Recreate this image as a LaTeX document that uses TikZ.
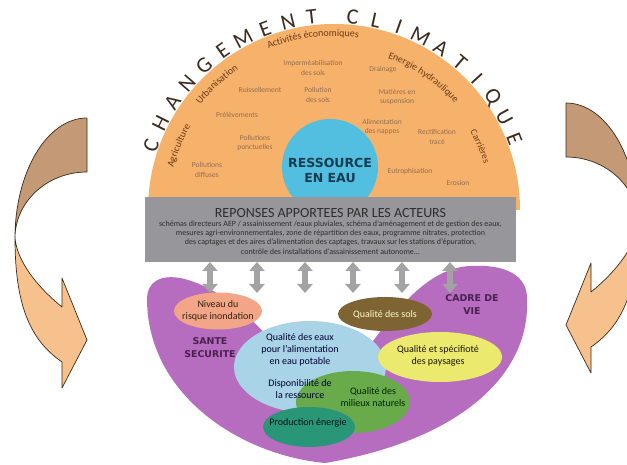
\documentclass[tikz,border=0pt]{standalone}
\usepackage{fontspec}
\setmainfont{Carlito}
\newfontfamily\dvs{DejaVu Sans}
\usetikzlibrary{arrows.meta,decorations.text}
\definecolor{orangebg}{HTML}{F6B26B}
\definecolor{bluec}{HTML}{52BEE0}
\definecolor{ressc}{HTML}{143C50}
\definecolor{bigl}{HTML}{3C2A1E}
\definecolor{arctext}{HTML}{6B3A18}
\definecolor{smallt}{HTML}{946C52}
\definecolor{grayb}{HTML}{97979B}
\definecolor{grayt}{HTML}{2E2E2E}
\definecolor{arrgray}{HTML}{A3A3A3}
\definecolor{purp}{HTML}{B66DBF}
\definecolor{purpt}{HTML}{4A2050}
\definecolor{salmon}{HTML}{F2A687}
\definecolor{lblue}{HTML}{A9D3E6}
\definecolor{olive}{HTML}{7D6432}
\definecolor{yell}{HTML}{EBEA6E}
\definecolor{greenm}{HTML}{69AA4B}
\definecolor{teal2}{HTML}{2A9678}
\definecolor{arrdark}{HTML}{C49A76}
\definecolor{arrlight}{HTML}{F6C18C}
\definecolor{arrline}{HTML}{3A2A1A}
\newcommand\arclab{\fontsize{10}{11}\selectfont\color{arctext}}
\newcommand\arclabs{\fontsize{9.5}{11}\selectfont\color{arctext}}
\newcommand\twarrow{%
  \filldraw[arrdark,draw=arrline,line width=0.7pt,line join=round]
    (87,347) .. controls (47,347) and (15,293) .. (15,227)
    .. controls (15,263) and (47,293) .. (87,293) -- cycle;
  \filldraw[arrlight,draw=arrline,line width=0.7pt,line join=round]
    (15,227) .. controls (15,160) and (30,125) .. (62,103)
    -- (62,77) -- (87,125) -- (62,187) -- (62,158)
    .. controls (35,180) and (17,205) .. (15,227) -- cycle;
}
\tikzset{
  bigletter/.style={font=\fontsize{22}{22}\selectfont, text=bigl, inner sep=0pt},
  smalllab/.style={font=\fontsize{7.5}{9.5}\selectfont, text=smallt, align=center, inner sep=0pt},
  elltext/.style={font=\fontsize{10}{12}\selectfont, align=center, inner sep=0pt},
  boldlab/.style={font=\dvs\bfseries\fontsize{9.4}{13}\selectfont, text=purpt, align=center, inner sep=0pt},
  dblarrow/.style={draw=arrgray, line width=6pt, {Triangle[length=9pt,width=15pt]}-{Triangle[length=9pt,width=15pt]}},
  arclabel/.style={decorate, decoration={text along path, text align=center, text={#1}}}
}
\begin{document}
\begin{tikzpicture}[x=1pt,y=1pt]
\useasboundingbox (0,0) rectangle (627,465);
\clip (0,0) rectangle (627,465);

% twisted arrows
\twarrow
\begin{scope}[shift={(653,15)}, xscale=-1]
\twarrow
\end{scope}

% orange half disk
\coordinate (oc) at (334,255);
\fill[orangebg] (520,255) arc[start angle=0,end angle=180,radius=186] -- cycle;

% CHANGEMENT CLIMATIQUE
\foreach \ch/\ang [count=\i] in {C/160.5,H/153.4,A/146.3,N/139.2,G/132.1,E/125.0,M/117.9,E/110.8,N/103.7,T/96.6,
  C/84.5,L/77.5,I/70.5,M/63.5,A/56.5,T/49.5,I/42.5,Q/35.5,U/28.5,E/21.5}
  \node[bigletter, rotate=\ang-90] (cl\i) at ([shift={(\ang:194)}]oc) {\ch};

% curved labels
\path[arclabel={|\arclab|Agriculture}] ([shift={(178:166)}]oc) arc[start angle=178, end angle=137, radius=166];
\path[arclabel={|\arclab|Urbanisation}] ([shift={(155:170)}]oc) arc[start angle=155, end angle=111, radius=170];
\path[arclabel={|\arclab|Activités économiques}] ([shift={(132:174)}]oc) arc[start angle=132, end angle=62, radius=174];
\path[arclabel={|\arclab|Energie hydraulique}] ([shift={(80:161)}]oc) arc[start angle=80, end angle=32, radius=161];
\path[arclabel={|\arclabs|Carrières}] ([shift={(44:157)}]oc) arc[start angle=44, end angle=3, radius=157];

% interior labels
\node[smalllab] (imp) at (313,397) {Imperméabilisation\\des sols};
\node[smalllab] (ruis) at (260,375) {Ruissellement};
\node[smalllab] (polsol) at (318,370) {Pollution\\des sols};
\node[smalllab] (drain) at (383,395) {Drainage};
\node[smalllab] (mat) at (397,368) {Matières en\\suspension};
\node[smalllab] (prel) at (237,350) {Prélèvements};
\node[smalllab] (polpon) at (255,322) {Pollutions\\ponctuelles};
\node[smalllab] (poldif) at (207,295) {Pollutions\\diffuses};
\node[smalllab] (alim) at (382,338) {Alimentation\\des nappes};
\node[smalllab] (rect) at (437,328) {Rectification\\tracé};
\node[smalllab] (eutro) at (410,293) {Eutrophisation};
\node[smalllab] (eros) at (458,282) {Erosion};

% ressource
\fill[bluec] (330,298) circle[radius=48];
\node[font=\dvs\bfseries\fontsize{12.5}{15}\selectfont, text=ressc, align=center, inner sep=0pt] (res) at (330,295) {RESSOURCE\\EN EAU};

% purple shape
\fill[purp] (325,2) .. controls (240,10) and (148,70) .. (147,165)
  .. controls (147,185) and (162,190) .. (180,187)
  .. controls (215,180) and (250,150) .. (275,120)
  -- (370,120)
  .. controls (400,160) and (430,197) .. (470,199)
  .. controls (505,201) and (528,190) .. (527,165)
  .. controls (530,90) and (460,25) .. (325,2) -- cycle;

% gray box
\node[fill=grayb, minimum width=371pt, minimum height=65pt, inner sep=0pt, anchor=south west] (box) at (145,203) {};
\node[font=\fontsize{14}{16}\selectfont, text=grayt, inner sep=0pt] (title) at (330.5,252) {REPONSES APPORTEES PAR LES ACTEURS};
\node[font=\fontsize{8}{9.4}\selectfont, text=grayt, align=center, inner sep=0pt] (resp) at (330.5,227.5)
 {schémas directeurs AEP / assainissement /eaux pluviales, schéma d'aménagement et de gestion des eaux,\\
  mesures agri-environnementales, zone de répartition des eaux, programme nitrates, protection\\
  des captages et des aires d'alimentation des captages, travaux sur les stations d'épuration,\\
  contrôle des installations d'assainissement autonome...};

% double arrows
\foreach \x [count=\i] in {210,257,305,353,402,450}{
  \coordinate (up\i) at (\x,203);
  \coordinate (dn\i) at (\x,172);
  \draw[dblarrow] (up\i) -- (dn\i);
}

% ellipses
\fill[salmon] (218,154) ellipse[x radius=44, y radius=18.5];
\fill[lblue] (310,98) ellipse[x radius=76, y radius=46];
\fill[olive] (385,151) ellipse[x radius=47, y radius=17];
\fill[yell] (440,108) ellipse[x radius=62, y radius=25];
\fill[greenm] (353,63) ellipse[x radius=57, y radius=31];
\fill[teal2] (309,38) ellipse[x radius=46, y radius=20];

% texts
\node[elltext, text=black!75!brown] (niv) at (218,154) {Niveau du\\risque inondation};
\node[boldlab] (sante) at (210,117) {SANTE\\SECURITE};
\node[boldlab] (cadre) at (472,160) {CADRE DE\\VIE};
\node[elltext, text=black!80!blue] (qeaux) at (300,115) {Qualité des eaux\\pour l'alimentation\\en eau potable};
\node[elltext, text=black!80!blue] (dispo) at (300,76) {Disponibilité de\\la ressource};
\node[elltext, text=black!85!green] (milieux) at (373,68) {Qualité des\\milieux naturels};
\node[elltext, text=black!85!teal] (prod) at (308,42) {Production énergie};
\node[elltext, text=yellow!20!white] (sols) at (385,150) {Qualité des sols};
\node[elltext, text=black!80!olive] (pays) at (438,109) {Qualité et spécifioté\\des paysages};
\end{tikzpicture}
\end{document}
